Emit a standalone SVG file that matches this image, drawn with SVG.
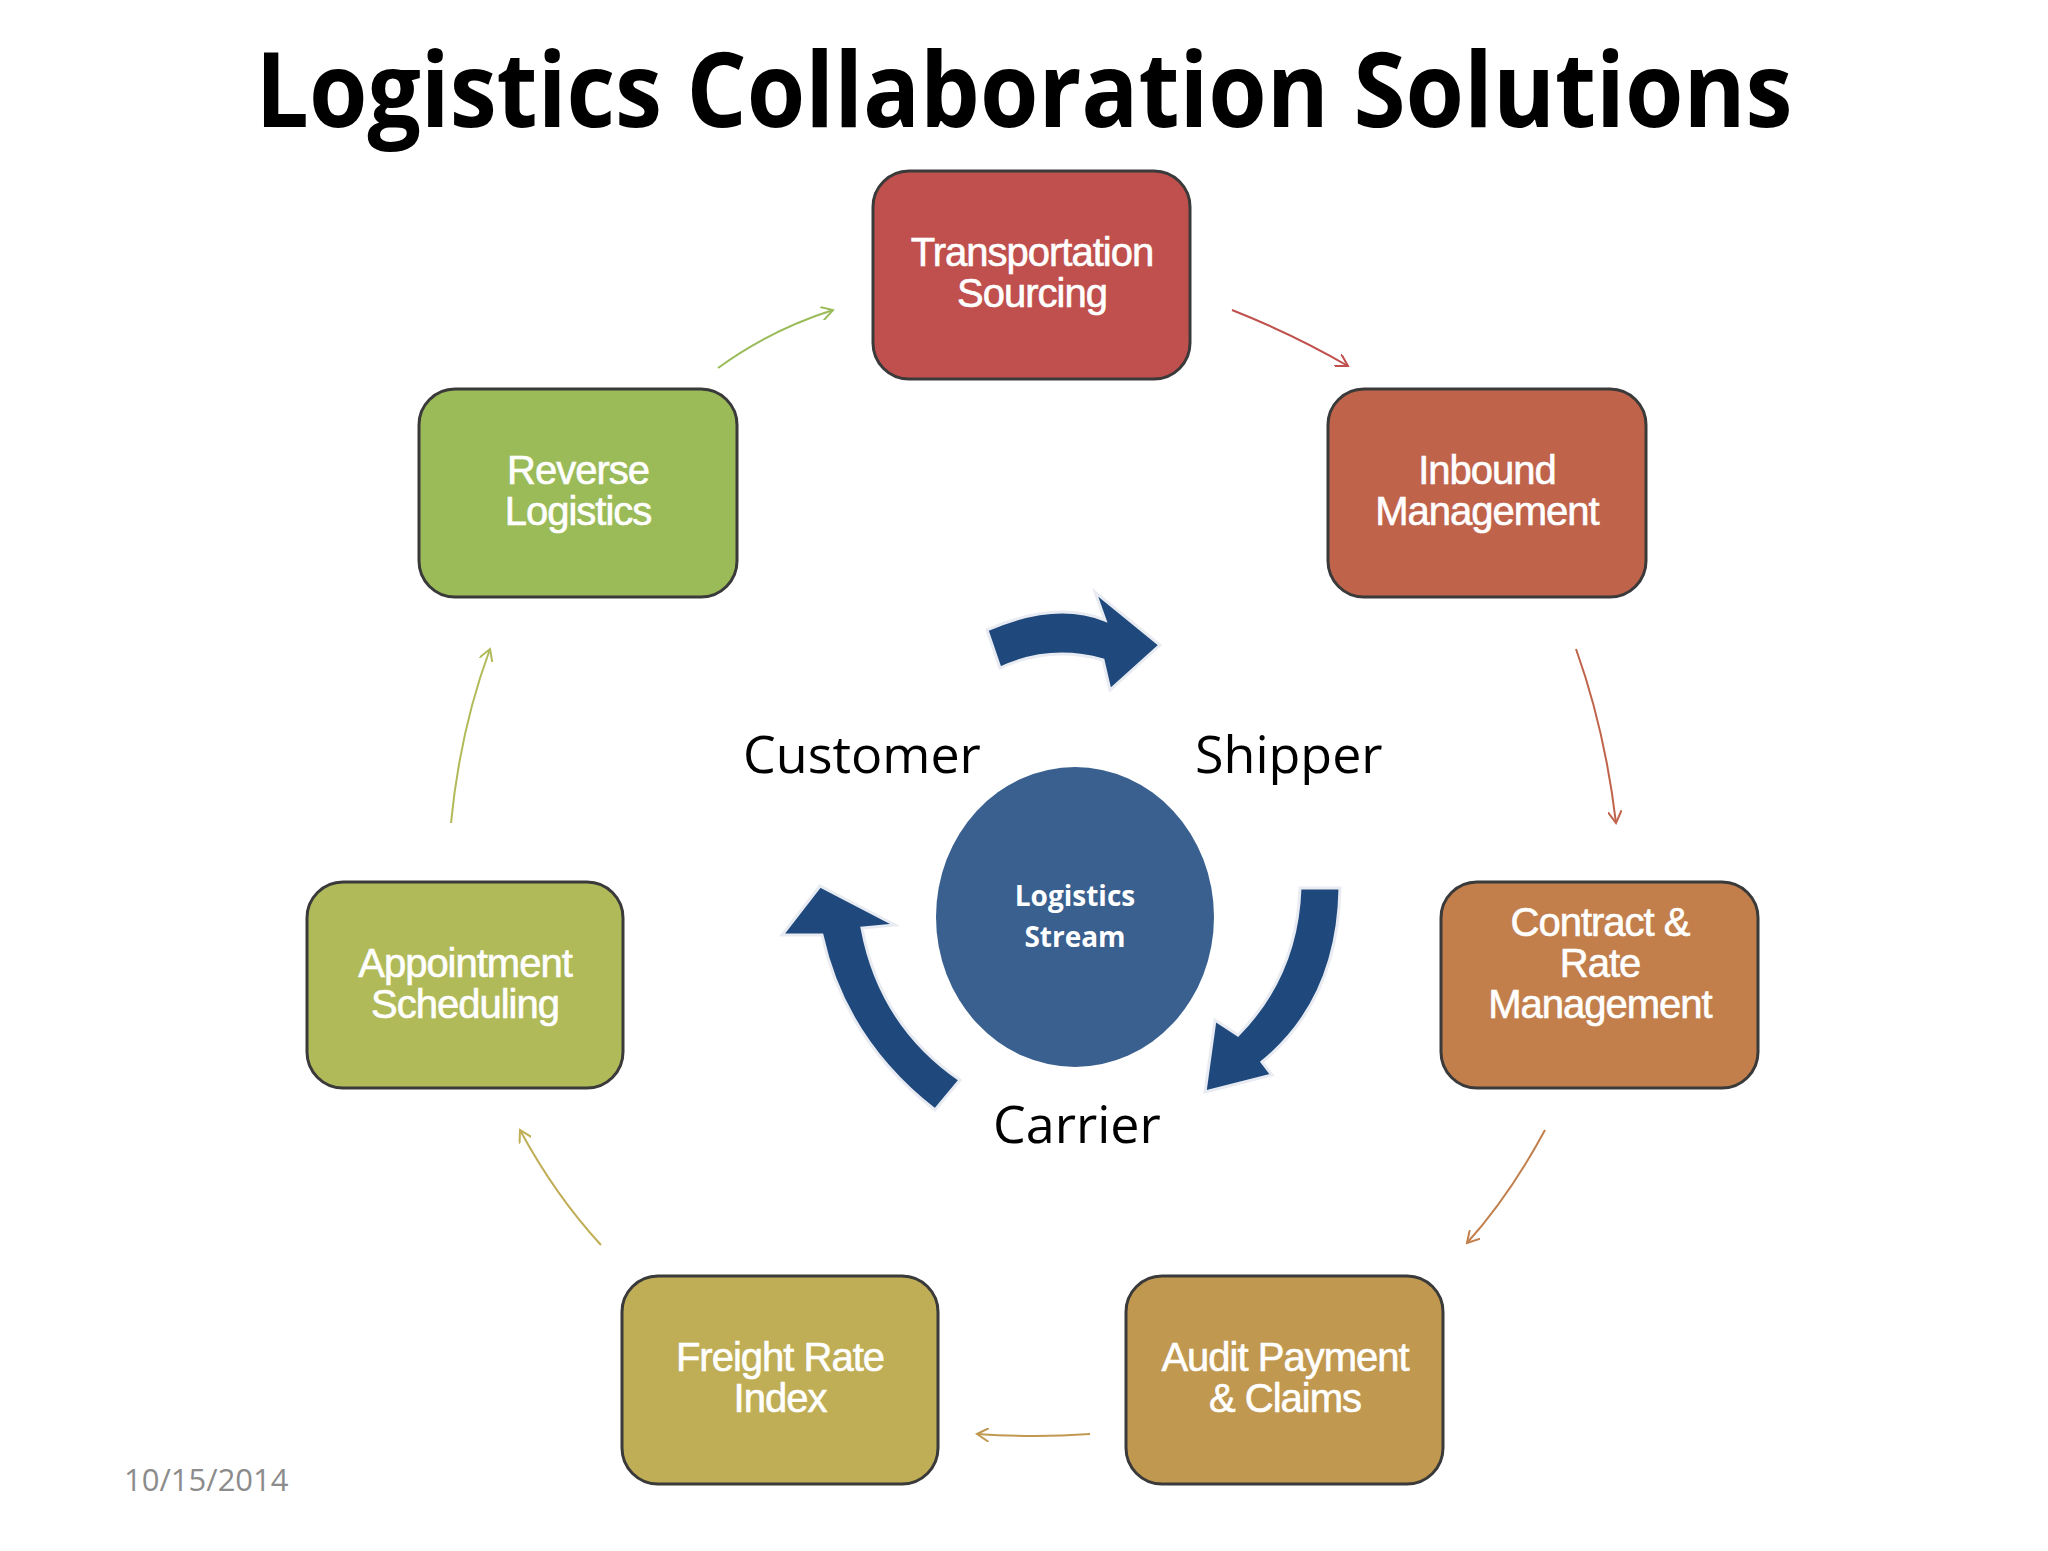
<svg xmlns="http://www.w3.org/2000/svg" width="2048" height="1551" viewBox="0 0 2048 1551">
<defs>
<style>
.box{stroke:#3a3a3a;stroke-width:3}
.bt{font-family:"Liberation Sans",Arial,sans-serif;font-size:40px;fill:#fff;text-anchor:middle;letter-spacing:-1px;stroke:#fff;stroke-width:0.6}
.lbl{font-family:"Open Sans","Liberation Sans",sans-serif;font-size:52px;fill:#000}
.conn{fill:none;stroke-width:2}
</style>
<marker id="m1" markerWidth="14" markerHeight="14" refX="12" refY="7" orient="auto" markerUnits="userSpaceOnUse"><path d="M0,0 L12,7 L0,14" fill="none" stroke="context-stroke" stroke-width="2"/></marker>
</defs>
<rect width="2048" height="1551" fill="#fff"/>
<text x="1024" y="127" text-anchor="middle" font-family="'Open Sans','Liberation Sans',sans-serif" font-weight="bold" font-size="104" textLength="1537" lengthAdjust="spacingAndGlyphs">Logistics Collaboration Solutions</text>
<g id="connectors">
<path class="conn" stroke="#C0504D" marker-end="url(#m1)" d="M1232,310 Q1295,335 1348,366"/>
<path class="conn" stroke="#C0634B" marker-end="url(#m1)" d="M1576,649 Q1605,730 1616,823"/>
<path class="conn" stroke="#C27F4C" marker-end="url(#m1)" d="M1545,1130 Q1510,1195 1467,1243"/>
<path class="conn" stroke="#C0984F" marker-end="url(#m1)" d="M1090,1434 Q1035,1438 977,1434"/>
<path class="conn" stroke="#BFAE56" marker-end="url(#m1)" d="M601,1245 Q555,1195 520,1130"/>
<path class="conn" stroke="#B1BA58" marker-end="url(#m1)" d="M451,823 Q460,730 490,649"/>
<path class="conn" stroke="#9BBB59" marker-end="url(#m1)" d="M718,368 Q770,330 833,310"/>
<g id="bigarrows" stroke="#e8ecf2" stroke-width="3" fill="#1F497D">
<path d="M987,630 Q1055,600 1105,620 L1095,592 L1160,645 L1110,690 L1103,660 Q1050,645 1000,668 Z"/>
<path d="M1300,888 L1340,888 Q1338,1000 1262,1062 L1272,1075 L1205,1092 L1215,1020 L1238,1035 Q1297,975 1300,888 Z"/>
<path d="M960,1080 L935,1110 Q845,1040 822,935 L782,935 L820,886 L895,925 L862,928 Q880,1025 960,1080 Z"/>
</g>
</g>
<g id="n1"><rect class="box" x="873" y="171" width="317" height="208" rx="36" fill="#C0504D"/><text class="bt" x="1032" y="266">Transportation</text><text class="bt" x="1032" y="307">Sourcing</text></g>
<g id="n2"><rect class="box" x="1328" y="389" width="318" height="208" rx="36" fill="#C0634B"/><text class="bt" x="1487" y="484">Inbound</text><text class="bt" x="1487" y="525">Management</text></g>
<g id="n3"><rect class="box" x="1441" y="882" width="317" height="206" rx="36" fill="#C27F4C"/><text class="bt" x="1600" y="936">Contract &amp;</text><text class="bt" x="1600" y="977">Rate</text><text class="bt" x="1600" y="1018">Management</text></g>
<g id="n4"><rect class="box" x="1126" y="1276" width="317" height="208" rx="36" fill="#C0984F"/><text class="bt" x="1285" y="1371">Audit Payment</text><text class="bt" x="1285" y="1412">&amp; Claims</text></g>
<g id="n5"><rect class="box" x="622" y="1276" width="316" height="208" rx="36" fill="#BFAE56"/><text class="bt" x="780" y="1371">Freight Rate</text><text class="bt" x="780" y="1412">Index</text></g>
<g id="n6"><rect class="box" x="307" y="882" width="316" height="206" rx="36" fill="#B1BA58"/><text class="bt" x="465" y="977">Appointment</text><text class="bt" x="465" y="1018">Scheduling</text></g>
<g id="n7"><rect class="box" x="419" y="389" width="318" height="208" rx="36" fill="#9BBB59"/><text class="bt" x="578" y="484">Reverse</text><text class="bt" x="578" y="525">Logistics</text></g>
<g id="center"><ellipse cx="1075" cy="917" rx="139" ry="150" fill="#3A6090"/><text x="1075" y="906" text-anchor="middle" font-family="'Open Sans','Liberation Sans',sans-serif" font-weight="bold" font-size="28" fill="#fff">Logistics</text><text x="1075" y="947" text-anchor="middle" font-family="'Open Sans','Liberation Sans',sans-serif" font-weight="bold" font-size="28" fill="#fff">Stream</text></g>
<text class="lbl" x="743" y="773">Customer</text>
<text class="lbl" x="1195" y="773">Shipper</text>
<text class="lbl" x="993" y="1143">Carrier</text>
<text x="124" y="1491" font-family="'Open Sans','Liberation Sans',sans-serif" font-size="31" fill="#8c8c8c">10/15/2014</text>
</svg>
